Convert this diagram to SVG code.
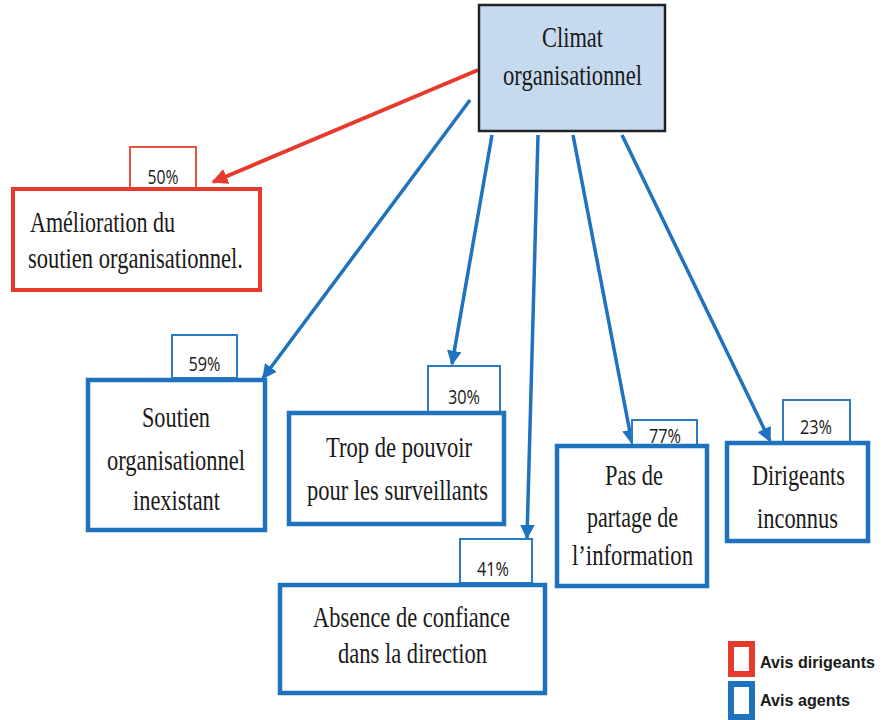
<svg xmlns="http://www.w3.org/2000/svg" width="892" height="720" viewBox="0 0 892 720">
<style>
.t{font-family:"Liberation Serif","Times New Roman",serif;font-size:29px;fill:#1a1a1a;text-anchor:middle}
.p{font-family:"Open Sans","Liberation Sans",sans-serif;font-size:20px;fill:#1a1a1a;text-anchor:middle}
.rb{fill:#fff;stroke:#e53a2c;stroke-width:4}
.rp{fill:#fff;stroke:#e8553f;stroke-width:2}
.bb{fill:#fff;stroke:#1f72bd;stroke-width:4.5}
.bp{fill:#fff;stroke:#2b7cc4;stroke-width:2}
.ra{stroke:#e53a2c;stroke-width:4;fill:none;marker-end:url(#mr)}
.ba{stroke:#1f72bd;stroke-width:3.5;fill:none;marker-end:url(#mb)}
.lg{font-family:"Liberation Sans",Arial,sans-serif;font-weight:bold;font-size:17px;fill:#1a1a1a}
</style>
<defs>
<marker id="mr" viewBox="0 0 10 10" refX="9" refY="5" markerWidth="4" markerHeight="4" orient="auto" markerUnits="strokeWidth"><path d="M0,0 L10,5 L0,10 z" fill="#e53a2c"/></marker>
<marker id="mb" viewBox="0 0 10 10" refX="9" refY="5" markerWidth="4.2" markerHeight="4.2" orient="auto" markerUnits="strokeWidth"><path d="M0,0 L10,5 L0,10 z" fill="#1f72bd"/></marker>
</defs>
<rect width="892" height="720" fill="#fff"/>
<g id="connectors">
<line class="ra" x1="478" y1="70" x2="213" y2="182"/>
<line class="ba" x1="470" y1="100" x2="263" y2="378"/>
<line class="ba" x1="492" y1="135" x2="452" y2="364"/>
<line class="ba" x1="538" y1="135" x2="527" y2="538"/>
<line class="ba" x1="573" y1="135" x2="632" y2="443"/>
<line class="ba" x1="622" y1="135" x2="770" y2="441"/>
</g>
<g id="climat">
<rect x="479" y="5" width="186" height="126" fill="#c5d9ef" stroke="#222" stroke-width="2.5"/>
<text class="t" x="572.5" y="47" textLength="61" lengthAdjust="spacingAndGlyphs">Climat</text>
<text class="t" x="572.5" y="85" textLength="139" lengthAdjust="spacingAndGlyphs">organisationnel</text>
</g>
<g id="amelioration">
<rect class="rp" x="130" y="147" width="66" height="42"/>
<text class="p" x="163" y="184" textLength="31" lengthAdjust="spacingAndGlyphs">50%</text>
<rect class="rb" x="13" y="189" width="247" height="101"/>
<text class="t" x="30" y="232" style="text-anchor:start" textLength="145" lengthAdjust="spacingAndGlyphs">Amélioration du</text>
<text class="t" x="28" y="268" style="text-anchor:start" textLength="215" lengthAdjust="spacingAndGlyphs">soutien organisationnel.</text>
</g>
<g id="soutien">
<rect class="bp" x="172" y="335" width="65" height="43"/>
<text class="p" x="204.5" y="371" textLength="32" lengthAdjust="spacingAndGlyphs">59%</text>
<rect class="bb" x="88" y="380" width="177" height="150"/>
<text class="t" x="176" y="427" textLength="68" lengthAdjust="spacingAndGlyphs">Soutien</text>
<text class="t" x="176" y="470" textLength="138" lengthAdjust="spacingAndGlyphs">organisationnel</text>
<text class="t" x="176.5" y="510" textLength="87" lengthAdjust="spacingAndGlyphs">inexistant</text>
</g>
<g id="trop">
<rect class="bp" x="428" y="366" width="72" height="46"/>
<text class="p" x="464" y="404" textLength="32" lengthAdjust="spacingAndGlyphs">30%</text>
<rect class="bb" x="289" y="413" width="215" height="111"/>
<text class="t" x="399" y="457" textLength="146" lengthAdjust="spacingAndGlyphs">Trop de pouvoir</text>
<text class="t" x="397.5" y="500" textLength="181" lengthAdjust="spacingAndGlyphs">pour les surveillants</text>
</g>
<g id="absence">
<rect class="bp" x="460" y="539" width="72" height="44"/>
<text class="p" x="493" y="576" textLength="32" lengthAdjust="spacingAndGlyphs">41%</text>
<rect class="bb" x="280" y="585" width="265" height="108"/>
<text class="t" x="411.5" y="627" textLength="197" lengthAdjust="spacingAndGlyphs">Absence de confiance</text>
<text class="t" x="412.5" y="663" textLength="149" lengthAdjust="spacingAndGlyphs">dans la direction</text>
</g>
<g id="partage">
<rect class="bp" x="632" y="420" width="65" height="26"/>
<text class="p" x="665" y="443" textLength="32" lengthAdjust="spacingAndGlyphs">77%</text>
<rect class="bb" x="557" y="446" width="150" height="140"/>
<text class="t" x="634" y="485" textLength="58" lengthAdjust="spacingAndGlyphs">Pas de</text>
<text class="t" x="632.5" y="527" textLength="91" lengthAdjust="spacingAndGlyphs">partage de</text>
<text class="t" x="632.5" y="565" textLength="121" lengthAdjust="spacingAndGlyphs">l’information</text>
</g>
<g id="dirigeants">
<rect class="bp" x="783" y="400" width="67" height="43"/>
<text class="p" x="816" y="434" textLength="32" lengthAdjust="spacingAndGlyphs">23%</text>
<rect class="bb" x="727" y="443" width="141" height="98"/>
<text class="t" x="798.5" y="485" textLength="93" lengthAdjust="spacingAndGlyphs">Dirigeants</text>
<text class="t" x="797.5" y="528" textLength="81" lengthAdjust="spacingAndGlyphs">inconnus</text>
</g>
<g id="legend">
<rect x="731" y="644" width="21" height="30" fill="#fff" stroke="#e53a2c" stroke-width="6"/>
<text class="lg" x="760" y="668" textLength="115" lengthAdjust="spacingAndGlyphs">Avis dirigeants</text>
<rect x="731" y="684" width="21" height="33" fill="#fff" stroke="#1f72bd" stroke-width="6"/>
<text class="lg" x="760" y="706" textLength="90" lengthAdjust="spacingAndGlyphs">Avis agents</text>
</g>
</svg>
